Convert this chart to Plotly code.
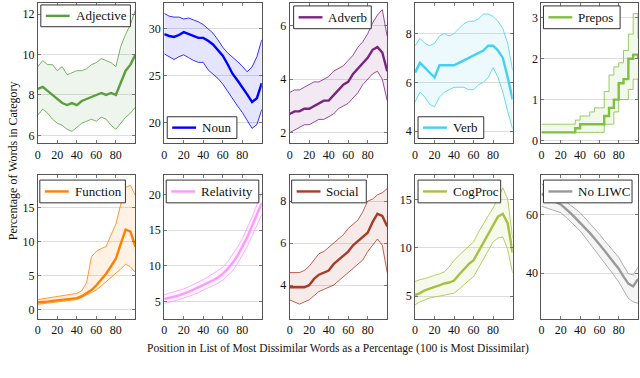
import plotly.graph_objects as go

FONT = "Liberation Serif"

# x position (percent of list), shared by every panel
positions = [0, 5, 10, 15, 20, 25, 30, 35, 40, 45, 50, 55, 60, 65, 70, 75, 80, 85, 90, 95, 100]

categories = ["Adjective", "Noun", "Adverb", "Verb", "Prepos",
              "Function", "Relativity", "Social", "CogProc", "No LIWC"]

adjective_mean = [8.3, 8.4, 8.2, 8.0, 7.8, 7.6, 7.5, 7.6, 7.5, 7.7, 7.8, 7.9, 8.0, 8.1, 8.0, 8.1, 8.0, 8.6, 9.2, 9.5, 10.0]
adjective_upper = [9.4, 9.7, 9.5, 9.5, 9.2, 9.4, 9.0, 9.1, 9.2, 9.2, 9.3, 9.5, 9.6, 9.8, 9.7, 9.6, 9.4, 10.4, 11.0, 11.5, 12.2]
adjective_lower = [7.0, 7.3, 7.1, 6.8, 6.6, 6.5, 6.3, 6.2, 6.4, 6.6, 6.7, 6.8, 6.7, 6.9, 6.8, 6.5, 6.3, 6.6, 6.9, 7.1, 7.4]

noun_mean = [29.4, 29.2, 29.1, 29.3, 29.6, 29.4, 29.2, 29.0, 29.0, 28.7, 28.3, 27.7, 27.1, 26.2, 25.2, 24.5, 23.8, 23.0, 22.2, 22.6, 24.2]
noun_upper = [31.6, 31.3, 31.2, 31.2, 31.0, 31.1, 30.9, 30.7, 30.4, 30.0, 29.5, 28.8, 28.0, 27.4, 27.0, 26.5, 26.0, 25.4, 25.9, 27.0, 28.8]
noun_lower = [27.3, 27.0, 26.7, 27.0, 27.2, 26.9, 26.6, 26.4, 26.4, 25.6, 25.2, 24.7, 24.1, 23.3, 22.5, 21.8, 21.1, 20.3, 19.4, 19.8, 21.4]

adverb_mean = [2.7, 2.8, 2.8, 2.9, 2.9, 3.0, 3.1, 3.2, 3.2, 3.4, 3.6, 3.8, 3.9, 4.2, 4.4, 4.6, 4.8, 5.1, 5.2, 5.0, 4.3]
adverb_upper = [3.5, 3.6, 3.6, 3.7, 3.8, 3.9, 3.9, 4.0, 4.1, 4.3, 4.4, 4.5, 4.7, 4.9, 5.2, 5.4, 5.7, 6.1, 6.4, 6.6, 5.6]
adverb_lower = [2.0, 2.1, 2.2, 2.3, 2.3, 2.4, 2.5, 2.5, 2.6, 2.7, 2.9, 3.0, 3.1, 3.3, 3.5, 3.8, 4.0, 4.2, 4.3, 4.0, 3.2]

verb_mean = [6.4, 6.8, 6.6, 6.4, 6.2, 6.7, 6.7, 6.7, 6.7, 6.8, 6.9, 7.0, 7.1, 7.2, 7.3, 7.5, 7.5, 7.3, 7.0, 6.2, 5.3]
verb_upper = [7.5, 7.8, 7.6, 7.5, 7.6, 7.9, 8.0, 7.9, 8.0, 8.2, 8.4, 8.5, 8.5, 8.6, 8.8, 8.8, 8.7, 8.5, 8.2, 7.6, 6.5]
verb_lower = [5.2, 5.6, 5.4, 5.1, 5.0, 5.4, 5.6, 5.7, 5.8, 5.8, 5.8, 5.7, 5.7, 5.9, 6.0, 6.2, 6.6, 6.2, 5.6, 4.8, 4.1]

prepos_mean = [0.2, 0.2, 0.2, 0.2, 0.2, 0.2, 0.2, 0.3, 0.4, 0.4, 0.4, 0.4, 0.4, 0.6, 0.8, 1.0, 1.4, 1.5, 2.0, 2.1, 2.0]
prepos_upper = [0.4, 0.4, 0.4, 0.4, 0.4, 0.4, 0.4, 0.5, 0.6, 0.6, 0.7, 0.8, 0.8, 1.2, 1.6, 1.8, 1.9, 2.2, 2.6, 3.1, 2.5]
prepos_lower = [0.2, 0.2, 0.2, 0.2, 0.2, 0.2, 0.2, 0.2, 0.2, 0.2, 0.2, 0.2, 0.2, 0.4, 0.4, 0.7, 1.0, 1.0, 1.25, 1.5, 1.0]

function_mean = [1.1, 1.1, 1.2, 1.3, 1.4, 1.5, 1.5, 1.6, 1.7, 2.0, 2.4, 2.9, 3.6, 4.4, 5.3, 6.4, 7.5, 9.7, 11.8, 11.5, 9.3]
function_upper = [1.5, 1.6, 1.7, 1.8, 2.0, 2.1, 2.2, 2.3, 2.4, 2.8, 4.0, 7.8, 8.6, 9.0, 9.3, 11.0, 12.6, 15.5, 18.0, 18.3, 16.8]
function_lower = [0.8, 0.9, 1.0, 1.1, 1.2, 1.3, 1.3, 1.4, 1.5, 1.8, 2.2, 2.5, 2.9, 3.5, 4.1, 4.7, 5.3, 6.0, 6.7, 6.3, 5.5]

relativity_mean = [5.4, 5.5, 5.7, 5.9, 6.1, 6.4, 6.7, 7.0, 7.3, 7.7, 8.0, 8.4, 8.9, 9.6, 10.4, 11.4, 12.6, 14.0, 15.6, 17.2, 18.8]
relativity_upper = [6.0, 6.2, 6.4, 6.5, 6.8, 7.1, 7.4, 7.8, 8.1, 8.5, 8.9, 9.3, 9.8, 10.6, 11.6, 12.6, 13.8, 15.2, 16.8, 18.6, 20.3]
relativity_lower = [4.8, 4.9, 5.1, 5.3, 5.5, 5.8, 6.0, 6.3, 6.6, 6.9, 7.2, 7.6, 8.0, 8.6, 9.3, 10.3, 11.4, 12.7, 14.2, 15.7, 17.2]

social_mean = [3.9, 3.9, 3.9, 3.9, 4.0, 4.3, 4.5, 4.6, 4.7, 5.0, 5.2, 5.4, 5.6, 5.9, 6.1, 6.3, 6.5, 7.0, 7.4, 7.3, 6.8]
social_upper = [4.6, 4.6, 4.6, 4.7, 4.9, 5.2, 5.5, 5.6, 5.8, 6.0, 6.2, 6.4, 6.7, 6.9, 7.1, 7.5, 8.0, 8.1, 8.3, 8.4, 8.6]
social_lower = [3.3, 3.2, 3.1, 3.2, 3.3, 3.5, 3.7, 3.8, 3.9, 4.0, 4.2, 4.4, 4.6, 4.8, 5.0, 5.2, 5.6, 5.9, 6.2, 5.9, 4.6]

cogproc_mean = [5.1, 5.3, 5.6, 5.8, 5.95, 6.1, 6.3, 6.4, 6.6, 7.2, 7.8, 8.3, 8.7, 9.6, 10.6, 11.5, 12.4, 13.2, 13.5, 12.5, 9.5]
cogproc_upper = [6.5, 6.7, 6.8, 7.0, 7.15, 7.3, 7.5, 8.0, 8.7, 9.2, 9.7, 10.1, 10.6, 11.6, 12.5, 13.3, 14.1, 15.2, 16.2, 15.0, 11.0]
cogproc_lower = [4.1, 4.4, 4.6, 4.8, 4.9, 5.0, 5.1, 5.2, 5.3, 5.7, 6.2, 6.6, 7.0, 7.9, 8.8, 9.7, 10.6, 11.0, 11.1, 9.8, 7.4]

noliwc_mean = [67.0, 66.0, 65.0, 64.2, 63.4, 62.0, 60.5, 58.8, 57.2, 55.5, 53.7, 51.8, 49.9, 47.8, 45.7, 43.6, 41.5, 38.8, 36.4, 35.5, 38.0]
noliwc_upper = [70.5, 69.0, 67.8, 66.6, 65.6, 64.4, 63.2, 61.9, 60.6, 58.8, 57.0, 55.2, 53.3, 51.2, 49.3, 47.3, 45.4, 42.5, 39.8, 39.4, 42.0]
noliwc_lower = [62.8, 62.2, 61.6, 61.1, 60.6, 59.2, 57.6, 56.0, 54.4, 52.3, 50.2, 48.1, 46.0, 43.8, 41.5, 39.3, 37.0, 34.2, 31.4, 30.2, 29.7]

x_ticks = [0, 20, 40, 60, 80]
y_ticks = [[6, 8, 10, 12], [20, 25, 30], [2, 4, 6], [4, 6, 8], [0, 1, 2, 3],
           [0, 5, 10, 15], [5, 10, 15, 20], [4, 6, 8], [5, 10, 15], [40, 60]]

series = [
    (adjective_mean, adjective_upper, adjective_lower),
    (noun_mean, noun_upper, noun_lower),
    (adverb_mean, adverb_upper, adverb_lower),
    (verb_mean, verb_upper, verb_lower),
    (prepos_mean, prepos_upper, prepos_lower),
    (function_mean, function_upper, function_lower),
    (relativity_mean, relativity_upper, relativity_lower),
    (social_mean, social_upper, social_lower),
    (cogproc_mean, cogproc_upper, cogproc_lower),
    (noliwc_mean, noliwc_upper, noliwc_lower),
]

# layout / style settings
W, H = 640, 378
COLOURS = ["#5b9e40", "#0000ff", "#7b2380", "#45d0f0", "#80c040",
           "#ff8000", "#ff99ff", "#a83c28", "#a8c040", "#999999"]
Y_RANGES = [(5.6, 12.55), (17.8, 32.7), (1.6, 6.85), (3.5, 9.25), (-0.07, 3.36),
            (-1.3, 19.8), (2.65, 22.7), (2.41, 9.24), (2.67, 17.5), (24.5, 73.4)]
COL_PX = [(35, 133), (162, 260), (288, 386), (414, 512), (541, 638)]
ROW_PX = [(3, 145), (177, 322)]
# hand-drawn legend boxes in px: (left, top, right, bottom)
LEGEND_BOX = [(38, 5, 128, 27), (165, 118, 235, 140), (292, 6, 370, 29), (417, 118, 483, 140),
              (543, 6, 620, 29), (37, 182, 123, 205), (164, 182, 257, 205), (290, 182, 365, 205),
              (417, 182, 500, 205), (543, 182, 632, 205)]


def px(xp, yp):
    return xp / W, 1 - yp / H


def rgba(hex_colour, alpha):
    h = hex_colour.lstrip("#")
    r, g, b = int(h[0:2], 16), int(h[2:4], 16), int(h[4:6], 16)
    return f"rgba({r},{g},{b},{alpha})"


fig = go.Figure()
layout = {}

for i, name in enumerate(categories):
    n = i + 1
    sfx = "" if n == 1 else str(n)
    xa, ya = f"x{sfx}", f"y{sfx}"
    mean, upper, lower = series[i]
    colour = COLOURS[i]
    shape = "hv" if name == "Prepos" else "linear"

    fig.add_trace(go.Scatter(x=positions, y=lower, mode="lines", xaxis=xa, yaxis=ya,
                             line=dict(color=colour, width=0.8, shape=shape),
                             showlegend=False, hoverinfo="skip"))
    fig.add_trace(go.Scatter(x=positions, y=upper, mode="lines", xaxis=xa, yaxis=ya,
                             line=dict(color=colour, width=0.8, shape=shape),
                             fill="tonexty", fillcolor=rgba(colour, 0.1),
                             showlegend=False, hoverinfo="skip"))
    fig.add_trace(go.Scatter(x=positions, y=mean, mode="lines", xaxis=xa, yaxis=ya,
                             line=dict(color=colour, width=2.4, shape=shape),
                             name=name, showlegend=False))

    c0, c1 = COL_PX[i % 5]
    r0, r1 = ROW_PX[i // 5]
    layout[f"xaxis{sfx}"] = dict(
        domain=[c0 / W, c1 / W], anchor=ya, range=[0, 100],
        tickvals=x_ticks, ticks="inside", ticklen=3, tickcolor="#777",
        showline=True, linecolor="#555", linewidth=1, mirror="ticks",
        showgrid=False, zeroline=False, tickfont=dict(family=FONT, size=12, color="#111"),
    )
    layout[f"yaxis{sfx}"] = dict(
        domain=[1 - r1 / H, 1 - r0 / H], anchor=xa, range=list(Y_RANGES[i]),
        tickvals=y_ticks[i], ticks="inside", ticklen=3, tickcolor="#777",
        showline=True, linecolor="#555", linewidth=1, mirror="ticks",
        showgrid=True, gridcolor="#dddddd", gridwidth=1, zeroline=False,
        tickfont=dict(family=FONT, size=12, color="#111"),
    )

    # legend box drawn by hand so its size matches the small pgfplots boxes
    bl, bt, br, bb = LEGEND_BOX[i]
    x0, y0 = px(bl, bb)
    x1, y1 = px(br, bt)
    fig.add_shape(type="rect", xref="paper", yref="paper", x0=x0, y0=y0, x1=x1, y1=y1,
                  line=dict(color="#333", width=1), fillcolor="white", layer="above")
    cy = 1 - (bt + bb) / 2 / H
    fig.add_shape(type="line", xref="paper", yref="paper",
                  x0=(bl + 5) / W, x1=(bl + 29) / W, y0=cy, y1=cy,
                  line=dict(color=colour, width=2.4), layer="above")
    fig.add_annotation(text=name, x=(bl + 33) / W, y=cy, xref="paper", yref="paper",
                       xanchor="left", yanchor="middle", showarrow=False,
                       font=dict(family=FONT, size=13, color="#111"))

fig.update_layout(**layout)

fig.add_annotation(text="Percentage of Words in Category", x=10 / W, y=1 - 162 / H,
                   xref="paper", yref="paper", textangle=-90, showarrow=False,
                   xanchor="center", yanchor="middle",
                   font=dict(family=FONT, size=12, color="#111"))
fig.add_annotation(text="Position in List of Most Dissimilar Words as a Percentage (100 is Most Dissimilar)",
                   x=337 / W, y=1 - 352 / H, xref="paper", yref="paper", showarrow=False,
                   xanchor="center", yanchor="middle",
                   font=dict(family=FONT, size=11.5, color="#111"))

fig.update_layout(
    width=W, height=H, margin=dict(l=0, r=0, t=0, b=0),
    paper_bgcolor="white", plot_bgcolor="white", showlegend=False,
)

fig.write_html("out.html", config={"displayModeBar": False},
               post_script="document.body.style.margin='0';document.body.style.padding='0';")
